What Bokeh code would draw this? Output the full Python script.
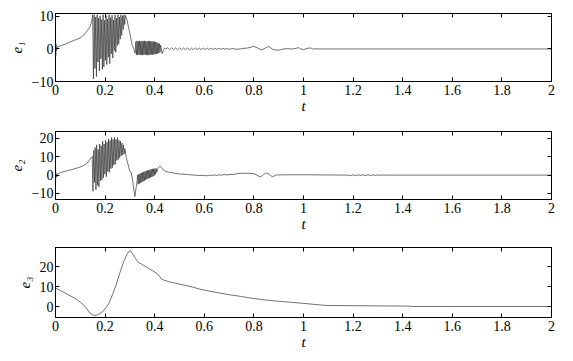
from bokeh.plotting import figure
from bokeh.layouts import column
from bokeh.models import Range1d, LinearAxis, FixedTicker, CustomJSTickFormatter
from bokeh.embed import file_html
from bokeh.resources import INLINE

# ---------------- data ----------------
x_ticks = [0, 0.2, 0.4, 0.6, 0.8, 1, 1.2, 1.4, 1.6, 1.8, 2]

e1_t = [0.0, 0.001, 0.002, 0.004, 0.008, 0.02, 0.04, 0.06, 0.08, 0.10, 0.115, 0.13, 0.14, 0.147,
        0.150, 0.153, 0.156, 0.159, 0.162, 0.165, 0.168, 0.171, 0.174, 0.177, 0.180, 0.183,
        0.186, 0.189, 0.192, 0.195, 0.198, 0.201, 0.204, 0.207, 0.210, 0.213, 0.216, 0.219,
        0.222, 0.225, 0.228, 0.231, 0.234, 0.237, 0.240, 0.243, 0.246, 0.249, 0.252, 0.255,
        0.258, 0.261, 0.264, 0.267, 0.270, 0.273, 0.276, 0.279, 0.282,
        0.288, 0.295, 0.303, 0.310, 0.316, 0.321,
        0.3240, 0.3265, 0.3290, 0.3315, 0.3340, 0.3365, 0.3390, 0.3415, 0.3440, 0.3465,
        0.3490, 0.3515, 0.3540, 0.3565, 0.3590, 0.3615, 0.3640, 0.3665, 0.3690, 0.3715,
        0.3740, 0.3765, 0.3790, 0.3815, 0.3840, 0.3865, 0.3890, 0.3915, 0.3940, 0.3965,
        0.3990, 0.4015, 0.4040, 0.4065, 0.4090, 0.4115, 0.4140, 0.4165, 0.4190, 0.4215, 0.4240,
        0.430, 0.436, 0.440, 0.445,
        0.452, 0.460, 0.468, 0.476, 0.484, 0.492, 0.500, 0.508, 0.516, 0.524, 0.532, 0.540,
        0.548, 0.556, 0.564, 0.572, 0.580, 0.588, 0.596, 0.604, 0.612, 0.620, 0.628, 0.636,
        0.644, 0.652, 0.660, 0.668, 0.676, 0.684, 0.692, 0.700,
        0.715, 0.73, 0.745, 0.76, 0.775, 0.79, 0.80, 0.815, 0.83, 0.845, 0.86, 0.875, 0.89,
        0.905, 0.92, 0.935, 0.95, 0.965, 0.98, 0.99, 1.0, 1.015, 1.03, 1.04, 1.05, 1.06, 2.0]
e1_v = [5.0, -2.2, 1.5, -0.5, 0.6, 0.9, 1.5, 2.2, 2.8, 3.4, 4.3, 5.8, 7.0, 8.8,
        10.5, -9.2, 10.5, -6.0, 9.8, -8.5, 10.5, -4.0, 9.5, -6.8, 10.2, -3.0,
        9.0, -6.3, 10.5, -5.5, 8.8, -3.5, 10.3, -4.8, 9.2, -2.5, 10.5, -4.5,
        9.6, -1.5, 10.4, -2.8, 8.9, -0.5, 10.5, -1.0, 9.5, 1.0, 10.5, 1.5,
        9.8, 3.0, 10.5, 4.2, 10.2, 6.0, 10.5, 7.5, 10.3,
        9.0, 6.5, 3.5, 1.0, 0.0, -1.3,
        2.3, -1.8, 2.5, -1.9, 2.4, -1.7, 2.5, -1.9, 2.3, -1.8,
        2.5, -1.9, 2.4, -1.8, 2.5, -1.7, 2.4, -1.9, 2.3, -1.8,
        2.5, -1.9, 2.4, -1.8, 2.3, -1.7, 2.4, -1.8, 2.2, -1.6,
        2.3, -1.7, 2.1, -1.5, 2.0, -1.4, 1.8, -1.3, 1.6, -1.0, 1.2,
        -1.5, -0.2, 0.3, 0.0,
        0.35, -0.25, 0.35, -0.2, 0.3, -0.25, 0.3, -0.2, 0.3, -0.2, 0.3, -0.25,
        0.25, -0.2, 0.3, -0.2, 0.25, -0.2, 0.25, -0.15, 0.25, -0.2, 0.2, -0.15,
        0.2, -0.15, 0.2, -0.1, 0.2, -0.1, 0.15, -0.1,
        0.1, -0.1, 0.0, 0.2, 0.3, 0.6, 0.8, 0.3, -0.3, 0.2, 0.8, -0.1, -0.4,
        -0.3, 0.0, 0.1, 0.0, 0.1, 0.4, 0.0, -0.2, 0.2, 0.3, -0.1, 0.1, 0.0, 0.0]

e2_t = [0.0, 0.001, 0.002, 0.005, 0.01, 0.03, 0.05, 0.07, 0.09, 0.11, 0.125, 0.135, 0.143, 0.148,
        0.151, 0.154, 0.157, 0.160, 0.163, 0.166, 0.169, 0.172, 0.175, 0.178, 0.181, 0.184,
        0.187, 0.190, 0.193, 0.196, 0.199, 0.202, 0.205, 0.208, 0.211, 0.214, 0.217, 0.220,
        0.223, 0.226, 0.229, 0.232, 0.235, 0.238, 0.241, 0.244, 0.247, 0.250, 0.253, 0.256,
        0.259, 0.262, 0.265, 0.268, 0.271, 0.274, 0.277, 0.280,
        0.285, 0.29, 0.295, 0.30, 0.305, 0.31, 0.315, 0.32, 0.325, 0.329,
        0.3310, 0.3335, 0.3360, 0.3385, 0.3410, 0.3435, 0.3460, 0.3485, 0.3510, 0.3535,
        0.3560, 0.3585, 0.3610, 0.3635, 0.3660, 0.3685, 0.3710, 0.3735, 0.3760, 0.3785,
        0.3810, 0.3835, 0.3860, 0.3885, 0.3910, 0.3935, 0.3960, 0.3985, 0.4010, 0.4035,
        0.4060, 0.4085,
        0.413, 0.418, 0.422, 0.428, 0.435, 0.445, 0.46, 0.48, 0.50, 0.52, 0.54, 0.56, 0.58,
        0.60, 0.61, 0.62, 0.63, 0.64, 0.65, 0.66, 0.67, 0.68, 0.69, 0.70, 0.72, 0.735, 0.75,
        0.78, 0.80, 0.815, 0.825, 0.835, 0.847, 0.86, 0.874, 0.885, 0.89, 0.95, 1.0, 1.1, 1.18,
        1.19, 1.20, 1.21, 1.22, 1.23, 1.24, 1.25, 1.26, 1.27, 1.28, 1.29, 1.30, 1.31, 1.32,
        1.33, 2.0]
e2_v = [8.0, -2.0, 1.0, -1.0, 0.8, 1.8, 2.5, 3.2, 4.0, 5.0, 6.2, 7.8, 9.5, 10.2,
        -8.8, 13.5, -4.0, 15.0, -8.0, 16.5, -5.5, 14.0, -6.4, 17.0, -3.0, 16.0,
        -2.7, 18.5, -1.5, 17.0, 0.5, 19.0, -0.9, 18.0, 2.0, 19.8, 1.5, 19.0,
        3.5, 20.5, 4.0, 19.5, 5.5, 20.7, 6.0, 19.5, 8.0, 20.5, 8.5, 19.0,
        9.5, 18.5, 10.5, 17.5, 11.0, 16.5, 11.5, 14.5,
        10.0, 7.0, 4.5, 2.0, 1.5, -2.0, -7.0, -11.7, -7.0, -3.0,
        0.0, -5.0, 0.5, -4.6, 0.8, -4.2, 1.2, -3.8, 1.5, -3.4,
        1.8, -3.0, 2.0, -2.6, 2.3, -2.2, 2.5, -1.9, 2.8, -1.6,
        3.0, -1.3, 3.2, -1.0, 3.4, -0.6, 3.5, -0.2, 3.6, 0.5,
        3.6, 1.5,
        3.8, 4.6, 5.0, 4.0, 2.8, 2.0, 1.5, 1.0, 0.6, 0.5, 0.2, 0.0, -0.2,
        -0.1, -0.4, 0.0, -0.3, 0.1, -0.2, 0.2, 0.0, 0.3, 0.1, 0.3, 0.4, 0.9, 1.0,
        1.0, 0.8, -0.2, -1.0, -0.2, 1.2, 0.6, -0.9, -0.3, 0.1, 0.2, 0.2, 0.1, 0.0,
        -0.3, 0.2, -0.3, 0.2, -0.2, 0.2, -0.2, 0.2, -0.2, 0.15, -0.2, 0.15, -0.15, 0.1,
        0.0, 0.0]

e3_t = [0.0, 0.02, 0.05, 0.08, 0.10, 0.12, 0.14, 0.155, 0.17, 0.185, 0.20, 0.215, 0.23,
        0.245, 0.26, 0.275, 0.29, 0.30, 0.31, 0.32, 0.335, 0.35, 0.37, 0.39, 0.41, 0.43,
        0.46, 0.50, 0.55, 0.585, 0.60, 0.65, 0.70, 0.75, 0.786, 0.85, 0.90, 0.95, 0.988,
        1.05, 1.095, 1.2, 1.3, 1.42, 1.44, 1.6, 1.8, 2.0]
e3_v = [9.2, 8.0, 6.0, 4.0, 2.2, 0.0, -3.5, -4.5, -4.2, -3.0, -1.2, 1.5, 6.0,
        11.0, 17.0, 22.5, 26.5, 28.0, 26.5, 24.5, 22.0, 21.0, 19.5, 18.0, 16.5, 13.5,
        12.3, 11.2, 9.8, 8.6, 8.2, 7.0, 5.9, 5.0, 4.2, 3.2, 2.6, 2.1, 1.7,
        1.0, 0.5, 0.4, 0.3, 0.2, 0.0, 0.0, 0.0, 0.0]

panels = [
    # (t, values, label, y_range, y_ticks)
    (e1_t, e1_v, "e\u2081", (-10, 10.9), [-10, 0, 10]),
    (e2_t, e2_v, "e\u2082", (-13.3, 23.8), [-10, 0, 10, 20]),
    (e3_t, e3_v, "e\u2083", (-5.5, 29.5), [0, 10, 20]),
]
frame_heights = [68, 68, 70]
tops = [13, 9, 9]
bottoms = [41, 39, 36]

FONT = "Liberation Serif"
LINE_COLOR = "#333333"

figs = []
for i, (t, v, lab, yr, yt) in enumerate(panels):
    p = figure(frame_width=496, frame_height=frame_heights[i],
               x_range=Range1d(0, 2), y_range=Range1d(*yr),
               output_backend="svg", toolbar_location=None,
               min_border_left=55, min_border_right=14,
               min_border_top=tops[i], min_border_bottom=bottoms[i])
    p.line(t, v, line_color=LINE_COLOR, line_width=0.7)
    p.xgrid.visible = False
    p.ygrid.visible = False
    p.outline_line_color = "black"
    p.outline_line_width = 1

    for ax in p.xaxis:
        ax.ticker = FixedTicker(ticks=x_ticks)
        ax.formatter = CustomJSTickFormatter(code="return String(tick);")
        ax.axis_label = "t"
        ax.axis_label_text_font = FONT
        ax.axis_label_text_font_style = "italic"
        ax.axis_label_text_font_size = "15px"
        ax.axis_label_standoff = 0
        ax.major_label_text_font = FONT
        ax.major_label_text_font_size = "14px"
        ax.major_label_standoff = 3
    for ax in p.yaxis:
        ax.ticker = FixedTicker(ticks=yt)
        ax.axis_label = lab
        ax.axis_label_text_font = FONT
        ax.axis_label_text_font_style = "italic"
        ax.axis_label_text_font_size = "15px"
        ax.axis_label_standoff = 4
        ax.major_label_text_font = FONT
        ax.major_label_text_font_size = "14px"
        ax.major_label_standoff = 2
    for ax in list(p.xaxis) + list(p.yaxis):
        ax.major_tick_in = 4
        ax.major_tick_out = 0
        ax.minor_tick_in = 0
        ax.minor_tick_out = 0
        ax.axis_line_color = "black"
        ax.major_tick_line_color = "black"
        ax.major_label_text_color = "black"
        ax.axis_label_text_color = "black"

    # tick marks on the top and right edges (no labels)
    top_ax = LinearAxis(ticker=FixedTicker(ticks=x_ticks),
                        formatter=CustomJSTickFormatter(code="return '';"),
                        major_tick_in=4, major_tick_out=0,
                        minor_tick_in=0, minor_tick_out=0,
                        major_label_standoff=0)
    right_ax = LinearAxis(ticker=FixedTicker(ticks=yt),
                          formatter=CustomJSTickFormatter(code="return '';"),
                          major_tick_in=4, major_tick_out=0,
                          minor_tick_in=0, minor_tick_out=0,
                          major_label_standoff=0)
    p.add_layout(top_ax, "above")
    p.add_layout(right_ax, "right")
    figs.append(p)

layout = column(*figs, spacing=0)
open("out.html", "w").write(file_html(layout, INLINE))
